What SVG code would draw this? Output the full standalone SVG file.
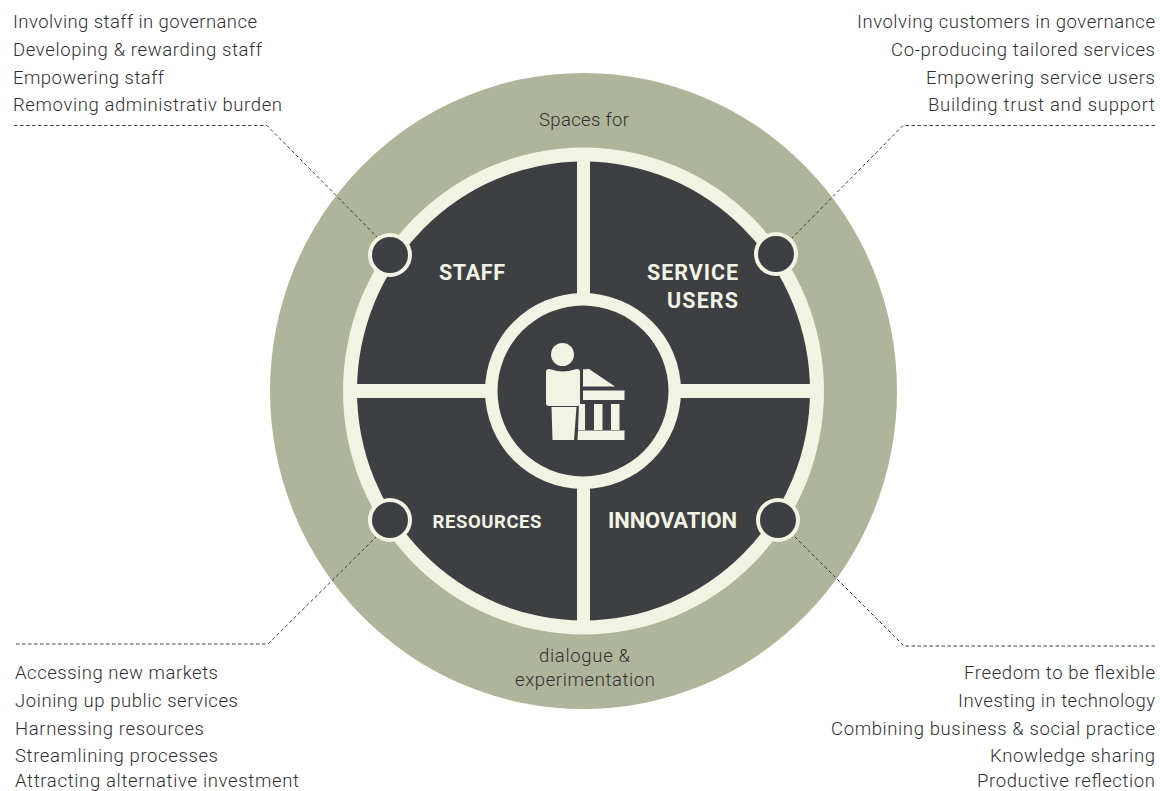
<svg xmlns="http://www.w3.org/2000/svg" width="1160" height="791" viewBox="0 0 1160 791">
<style>
text{font-family:Roboto,"Liberation Sans",sans-serif}
.t{font-size:18.5px;font-weight:300;fill:#2f3034}
.h{font-weight:700;fill:#f1f4e3;text-anchor:middle}
.c{fill:none;stroke:#3e3f43;stroke-width:1;stroke-dasharray:3.5 2.5}
.cream{fill:#f1f4e3}
.dark{fill:#3e3f43}
</style>
<rect width="1160" height="791" fill="#fff"/>
<g id="wheel">
<ellipse cx="583.5" cy="391" rx="313.5" ry="318" fill="#afb59a"/>
<ellipse class="cream" cx="583.5" cy="391" rx="240.5" ry="243.5"/>
<ellipse class="dark" cx="583.5" cy="391" rx="226.5" ry="229.5"/>
<rect class="cream" x="577" y="150" width="13" height="480"/>
<rect class="cream" x="345" y="384" width="478" height="14"/>
<circle class="cream" cx="583" cy="391" r="98"/>
<circle class="dark" cx="583" cy="391" r="85.5"/>
</g>
<g id="connectors">
<path class="c" d="M14 125.500H267L378 238"/>
<path class="c" d="M1155 125.500H903L792 238"/>
<path class="c" d="M16 644H268L376 537"/>
<path class="c" d="M1155 646H904L795 537"/>
</g>
<g id="node-staff">
<circle class="cream" cx="390" cy="255" r="22"/><circle class="dark" cx="390" cy="255" r="18"/>
<text class="h" x="472" y="280" font-size="21.500" textLength="66">STAFF</text>
<text class="t" x="13" y="28" textLength="244">Involving staff in governance</text>
<text class="t" x="13" y="56" textLength="249">Developing &amp; rewarding staff</text>
<text class="t" x="13" y="84" textLength="151">Empowering staff</text>
<text class="t" x="13" y="111" textLength="269">Removing administrativ burden</text>
</g>
<g id="node-service-users">
<circle class="cream" cx="776" cy="254" r="22"/><circle class="dark" cx="776" cy="254" r="18"/>
<text class="h" x="692.500" y="280" font-size="21.500" textLength="91">SERVICE</text>
<text class="h" x="702.500" y="308" font-size="21.500" textLength="71">USERS</text>
<text class="t" x="857" y="28" textLength="298">Involving customers in governance</text>
<text class="t" x="891" y="56" textLength="264">Co-producing tailored services</text>
<text class="t" x="926" y="84" textLength="229">Empowering service users</text>
<text class="t" x="928" y="111" textLength="227">Building trust and support</text>
</g>
<g id="node-resources">
<circle class="cream" cx="390" cy="520" r="22"/><circle class="dark" cx="390" cy="520" r="18"/>
<text class="h" x="487" y="528" font-size="18.500" textLength="109">RESOURCES</text>
<text class="t" x="15" y="679" textLength="203">Accessing new markets</text>
<text class="t" x="15" y="707" textLength="223">Joining up public services</text>
<text class="t" x="15" y="735" textLength="189">Harnessing resources</text>
<text class="t" x="15" y="762" textLength="203">Streamlining processes</text>
<text class="t" x="15" y="786.500" textLength="284">Attracting alternative investment</text>
</g>
<g id="node-innovation">
<circle class="cream" cx="778" cy="520" r="22"/><circle class="dark" cx="778" cy="520" r="18"/>
<text class="h" x="672.500" y="528" font-size="22" textLength="129">INNOVATION</text>
<text class="t" x="964" y="679" textLength="191">Freedom to be flexible</text>
<text class="t" x="958" y="707" textLength="197">Investing in technology</text>
<text class="t" x="831" y="735" textLength="324">Combining business &amp; social practice</text>
<text class="t" x="990" y="762" textLength="165">Knowledge sharing</text>
<text class="t" x="977" y="786.500" textLength="178">Productive reflection</text>
</g>
<g id="labels">
<text class="t" x="539" y="126" textLength="90">Spaces for</text>
<text class="t" x="539" y="662" textLength="91">dialogue &amp;</text>
<text class="t" x="515" y="686" textLength="140">experimentation</text>
</g>
<g id="icon" class="cream">
<circle cx="562.500" cy="354.500" r="11.500"/>
<path d="M549 369Q558 371.500 563 371.500Q568 371.500 577 369Q580 369 580 372V403Q580 406 577 406H549Q546 406 546 403V372Q546 369 549 369Z"/>
<path d="M551.500 407H576.500L574 440H552.500Z"/>
<path d="M583 386.500V369.500L589 369L615 386.500Z"/>
<rect x="583" y="390.500" width="41.500" height="9.500"/>
<path d="M579 404H585V430H578Z"/>
<rect x="594" y="404" width="8.500" height="26"/>
<rect x="611" y="404" width="8.500" height="26"/>
<path d="M578 430.500H624.500V440H577.500Z"/>
</g>
</svg>
